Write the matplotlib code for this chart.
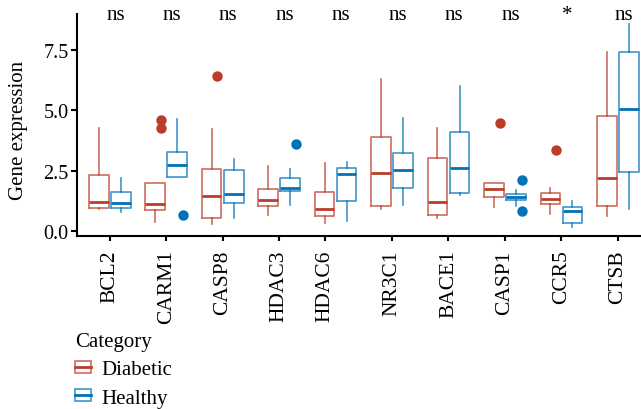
import matplotlib
matplotlib.use("Agg")
import matplotlib.pyplot as plt
from matplotlib.patches import Rectangle
from matplotlib.lines import Line2D
from matplotlib.legend_handler import HandlerBase
from matplotlib.colors import to_rgba

plt.rcParams['font.family'] = ['Liberation Serif', 'DejaVu Serif']

genes = ["BCL2", "CARM1", "CASP8", "HDAC3", "HDAC6", "NR3C1", "BACE1", "CASP1", "CCR5", "CTSB"]
signif = ["ns", "ns", "ns", "ns", "ns", "ns", "ns", "ns", "*", "ns"]

# Diabetic box statistics
diab_lo  = [0.90, 0.38, 0.30, 0.65, 0.32, 0.92, 0.55, 0.98, 0.70, 0.61]
diab_q1  = [0.96, 0.88, 0.54, 1.03, 0.61, 1.03, 0.67, 1.40, 1.12, 1.02]
diab_med = [1.21, 1.13, 1.43, 1.29, 0.92, 2.38, 1.21, 1.76, 1.34, 2.19]
diab_q3  = [2.30, 2.00, 2.58, 1.72, 1.63, 3.88, 3.03, 2.00, 1.56, 4.74]
diab_hi  = [4.24, 2.00, 4.20, 2.70, 2.80, 6.28, 4.28, 2.00, 1.78, 7.40]
diab_out = [[], [4.24, 4.57], [6.42], [], [], [], [], [4.45], [3.35], []]

# Healthy box statistics
heal_lo  = [0.80, 2.25, 0.55, 1.06, 0.40, 1.06, 1.49, 1.05, 0.19, 0.91]
heal_q1  = [0.96, 2.25, 1.17, 1.67, 1.25, 1.78, 1.57, 1.28, 0.33, 2.45]
heal_med = [1.17, 2.73, 1.53, 1.78, 2.36, 2.52, 2.62, 1.39, 0.81, 5.05]
heal_q3  = [1.61, 3.25, 2.51, 2.18, 2.60, 3.24, 4.10, 1.52, 0.99, 7.38]
heal_hi  = [2.19, 4.64, 2.99, 2.58, 2.85, 4.66, 5.98, 1.68, 1.24, 8.55]
heal_out = [[], [0.66], [], [3.61], [], [], [], [2.12, 0.83], [], []]

groups = ["Diabetic", "Healthy"]
colors = ["#BC3C29", "#0072B5"]
tick_shift = [0, 0, 0, 0, -0.187, 0, 0, 0, 0, 0]

fig = plt.figure(figsize=(6.41, 4.10), dpi=100)
ax = fig.add_axes([77/641, 1 - 236.7/410, 1 - 77/641, (236.7 - 15)/410])

dodge = 0.196
bw = 0.348
flier_shift = 0.1

sets = [
    (diab_lo, diab_q1, diab_med, diab_q3, diab_hi, diab_out),
    (heal_lo, heal_q1, heal_med, heal_q3, heal_hi, heal_out),
]
for gi, (lo, q1, med, q3, hi, out) in enumerate(sets):
    col = colors[gi]
    light = to_rgba(col, 0.75)
    stats = []
    for i in range(len(genes)):
        stats.append(dict(med=med[i], q1=q1[i], q3=q3[i], whislo=lo[i], whishi=hi[i], fliers=[]))
    pos = [i + (gi - 0.5) * 2 * dodge for i in range(len(genes))]
    ax.bxp(stats, positions=pos, widths=bw, showfliers=False, showcaps=False,
           patch_artist=False,
           boxprops=dict(color=light, linewidth=1.2),
           whiskerprops=dict(color=light, linewidth=1.2),
           medianprops=dict(color=col, linewidth=2.0, solid_capstyle='butt'),
           manage_ticks=False, zorder=2)
    for i in range(len(genes)):
        if out[i]:
            ax.plot([pos[i] + flier_shift] * len(out[i]), out[i], 'o', color=col,
                    markersize=7.5, markeredgewidth=0, zorder=3)

ax.set_xlim(-0.58, 9.41)
ax.set_ylim(-0.19, 8.97)
ax.set_yticks([0, 2.5, 5.0, 7.5])
ax.set_yticklabels(["0.0", "2.5", "5.0", "7.5"])
ax.set_xticks([i + tick_shift[i] for i in range(len(genes))])
ax.set_xticklabels(genes, rotation=90, va='top', ha='center')

for s in ["top", "right"]:
    ax.spines[s].set_visible(False)
for s in ["left", "bottom"]:
    ax.spines[s].set_linewidth(1.5)
ax.tick_params(axis='y', length=4, width=1.5, pad=2, labelsize=14.5, colors='black')
ax.tick_params(axis='x', length=3.8, width=1.5, pad=6, labelsize=15.5, colors='black')

for i, s in enumerate(signif):
    ax.text(i + flier_shift, 8.97, s, ha='center', va='center', fontsize=15, clip_on=False)

fig.text(18.5/641, 1 - 130/410, "Gene expression", rotation=90, ha='center', va='center', fontsize=15)


class HandlerBoxKey(HandlerBase):
    def create_artists(self, legend, orig_handle, xdescent, ydescent, width, height, fontsize, trans):
        col = orig_handle.get_color()
        r = Rectangle((-xdescent, -ydescent), width, height, facecolor='none',
                      edgecolor=to_rgba(col, 0.75), linewidth=1.2, transform=trans)
        l = Line2D([-xdescent, -xdescent + width], [-ydescent + height / 2] * 2,
                   color=col, linewidth=2.0, transform=trans)
        return [r, l]


handles = [Line2D([], [], color=c) for c in colors]
leg = fig.legend(handles, groups, title="Category", loc='upper left',
                 bbox_to_anchor=(75/641, 1 - 333/410), frameon=False, fontsize=15,
                 title_fontsize=15, handler_map={Line2D: HandlerBoxKey()},
                 handlelength=0.75, handleheight=0.5, handletextpad=0.5,
                 labelspacing=0.45, alignment='left', borderaxespad=0, borderpad=0)

fig.savefig("out.png", dpi=100)
